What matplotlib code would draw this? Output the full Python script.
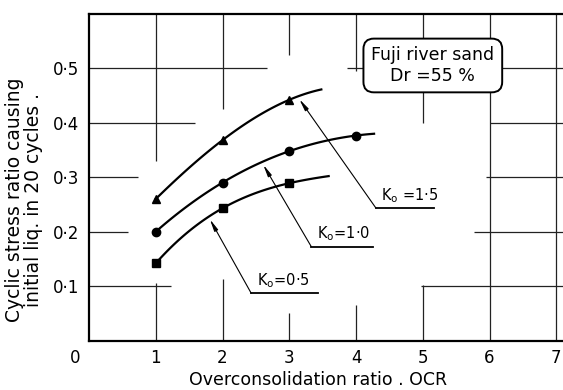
import matplotlib
matplotlib.use("Agg")
import matplotlib.pyplot as plt
import numpy as np

# Cyclic stress ratio causing initial liquefaction in 20 cycles vs OCR,
# Fuji river sand, Dr = 55 %, for three values of K0
ocr = [1, 2, 3, 4]
csr_k15 = [0.260, 0.368, 0.442]
csr_k10 = [0.200, 0.290, 0.348, 0.376]
csr_k05 = [0.142, 0.243, 0.289]
markers = ["^", "o", "s"]

# where each hand-drawn curve stops, past the last test point
curve_end_ocr = [3.48, 4.27, 3.59]
curve_end_csr = [0.461, 0.380, 0.302]

# label placement: where the leader line meets the curve and where the
# underlined label sits
tip_x = [3.15, 2.61, 1.81]
label_xy = [(4.30, 0.243), (3.33, 0.1725), (2.43, 0.087)]
label_len = [0.87, 0.92, 1.0]
label_txt = [r"K$_\mathregular{o}$ =1·5", r"K$_\mathregular{o}$=1·0",
             r"K$_\mathregular{o}$=0·5"]

# broken grid, drawn by hand as on the original sheet
vgrid = [(1, 0.33, 0.6), (1, 0, 0.105), (2, 0.425, 0.6), (2, 0, 0.113),
         (3, 0.524, 0.6), (3, 0, 0.05), (4, 0.494, 0.6), (4, 0, 0.066),
         (5, 0.40, 0.6), (5, 0, 0.102), (6, 0, 0.6), (7, 0, 0.6)]
hgrid = [(0.5, 0, 2.66), (0.5, 3.87, 7.2), (0.4, 0, 1.59), (0.4, 6.0, 7.2),
         (0.3, 0, 0.74), (0.3, 5.94, 7.2), (0.2, 0, 0.59), (0.2, 5.77, 7.2),
         (0.1, 0, 1.23), (0.1, 4.97, 7.2)]

fig = plt.figure(figsize=(5.63, 3.9), dpi=100)
ax = fig.add_axes([89 / 563, 49.3 / 390, 1 - 89 / 563, (376.3 - 49.3) / 390])
ax.set_xlim(0, 7.1)
ax.set_ylim(0, 0.6)

for x, y0, y1 in vgrid:
    ax.vlines(x, y0, y1, color="#222222", lw=0.9, zorder=1)
for y, x0, x1 in hgrid:
    ax.hlines(y, x0, x1, color="#222222", lw=0.9, zorder=1)

for vals, mk, xe, ye, tx, (lx, ly), ll, txt in zip(
        [csr_k15, csr_k10, csr_k05], markers, curve_end_ocr, curve_end_csr,
        tip_x, label_xy, label_len, label_txt):
    xs = ocr[:len(vals)]
    # smooth curve through the test points and on to the drawn end
    coef = np.polyfit(xs + [xe], vals + [ye], 3)
    xx = np.linspace(1, xe, 120)
    ax.plot(xx, np.polyval(coef, xx), color="black", lw=1.6, zorder=3)
    ax.plot(xs, vals, mk, color="black", ms=6, zorder=4)
    ty = np.polyval(coef, tx) - 0.006
    ax.annotate("", xy=(tx, ty), xytext=(lx, ly),
                arrowprops=dict(arrowstyle="-|>,head_width=0.12,head_length=0.7",
                                lw=0.8, color="black", mutation_scale=10,
                                shrinkA=0, shrinkB=0), zorder=2)
    ax.plot([lx, lx + ll], [ly, ly], color="black", lw=1.3, zorder=2)
    ax.text(lx + 0.08, ly + 0.006, txt, fontsize=10.5, ha="left", va="bottom")

ax.text(5.15, 0.505, "Fuji river sand\nDr =55 %", fontsize=12.5,
        ha="center", va="center", linespacing=1.15, zorder=5,
        bbox=dict(boxstyle="round,pad=0.45,rounding_size=0.6", fc="white",
                  ec="black", lw=1.4))

ax.set_xticks(range(1, 8))
ax.set_yticks([0.1, 0.2, 0.3, 0.4, 0.5],
              labels=["0·1", "0·2", "0·3", "0·4", "0·5"])
ax.tick_params(length=0, labelsize=12)
ax.tick_params(axis="y", pad=7)
ax.tick_params(axis="x", pad=6)
ax.annotate("0", xy=(0, 0), xytext=(-9.7, -6), textcoords="offset points",
            ha="center", va="top", fontsize=12)

for side in ["left", "bottom", "top"]:
    ax.spines[side].set_linewidth(1.6)
ax.spines["right"].set_visible(False)

ax.set_xlabel("Overconsolidation ratio . OCR", fontsize=12.5)
ax.xaxis.set_label_coords(0.484, -0.092)
ax.set_ylabel("Cyclic stress ratio causing\ninitial liq. in 20 cycles .",
              fontsize=13.5, linespacing=0.95)
ax.yaxis.set_label_coords(-0.098, 0.43)

fig.savefig("out.png", dpi=100, facecolor="white")
